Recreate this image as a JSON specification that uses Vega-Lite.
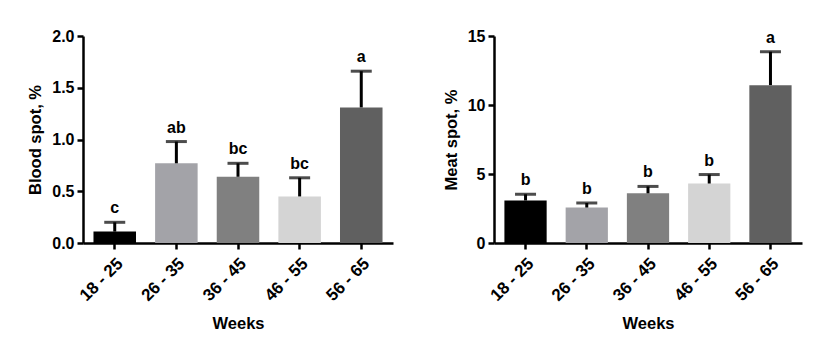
{
  "$schema": "https://vega.github.io/schema/vega-lite/v6.json",
  "padding": {"left": 27, "top": 28, "right": 5, "bottom": 5},
  "spacing": 50,
  "datasets": {
    "blood": [
      {"week": "18 - 25", "value": 0.11, "upper": 0.20, "letter": "c"},
      {"week": "26 - 35", "value": 0.77, "upper": 0.98, "letter": "ab"},
      {"week": "36 - 45", "value": 0.64, "upper": 0.77, "letter": "bc"},
      {"week": "46 - 55", "value": 0.45, "upper": 0.63, "letter": "bc"},
      {"week": "56 - 65", "value": 1.31, "upper": 1.66, "letter": "a"}
    ],
    "meat": [
      {"week": "18 - 25", "value": 3.08, "upper": 3.53, "letter": "b"},
      {"week": "26 - 35", "value": 2.57, "upper": 2.90, "letter": "b"},
      {"week": "36 - 45", "value": 3.60, "upper": 4.10, "letter": "b"},
      {"week": "46 - 55", "value": 4.31, "upper": 4.96, "letter": "b"},
      {"week": "56 - 65", "value": 11.44, "upper": 13.86, "letter": "a"}
    ]
  },
  "hconcat": [
    {
      "width": 310,
      "height": 207,
      "data": {"name": "blood"},
      "encoding": {
        "x": {"field": "week", "type": "nominal", "sort": null,
              "scale": {"paddingInner": 0.31, "paddingOuter": 0.17},
              "axis": {"title": "Weeks", "labelAngle": -45}}
      },
      "layer": [
        {
          "mark": {"type": "bar"},
          "encoding": {
            "y": {"field": "value", "type": "quantitative",
                  "scale": {"domain": [0, 2], "nice": false},
                  "axis": {"title": "Blood spot, %", "values": [0, 0.5, 1, 1.5, 2], "format": ".1f"}},
            "color": {"field": "week", "type": "nominal", "sort": null, "legend": null,
                      "scale": {"range": ["#000000", "#a3a3a8", "#808080", "#d4d4d4", "#606060"]}}
          }
        },
        {
          "mark": {"type": "rule", "strokeWidth": 3, "color": "#000000"},
          "encoding": {"y": {"field": "value", "type": "quantitative"}, "y2": {"field": "upper"}}
        },
        {
          "mark": {"type": "tick", "thickness": 3, "size": 21, "color": "#000000"},
          "encoding": {"y": {"field": "upper", "type": "quantitative"}}
        },
        {
          "mark": {"type": "text", "dy": -9, "baseline": "alphabetic", "fontSize": 16, "fontWeight": "bold", "font": "Liberation Sans", "color": "#000000"},
          "encoding": {"y": {"field": "upper", "type": "quantitative"}, "text": {"field": "letter"}}
        }
      ]
    },
    {
      "width": 308,
      "height": 207,
      "data": {"name": "meat"},
      "encoding": {
        "x": {"field": "week", "type": "nominal", "sort": null,
              "scale": {"paddingInner": 0.31, "paddingOuter": 0.17},
              "axis": {"title": "Weeks", "labelAngle": -45}}
      },
      "layer": [
        {
          "mark": {"type": "bar"},
          "encoding": {
            "y": {"field": "value", "type": "quantitative",
                  "scale": {"domain": [0, 15], "nice": false},
                  "axis": {"title": "Meat spot, %", "values": [0, 5, 10, 15]}},
            "color": {"field": "week", "type": "nominal", "sort": null, "legend": null,
                      "scale": {"range": ["#000000", "#a3a3a8", "#808080", "#d4d4d4", "#606060"]}}
          }
        },
        {
          "mark": {"type": "rule", "strokeWidth": 3, "color": "#000000"},
          "encoding": {"y": {"field": "value", "type": "quantitative"}, "y2": {"field": "upper"}}
        },
        {
          "mark": {"type": "tick", "thickness": 3, "size": 21, "color": "#000000"},
          "encoding": {"y": {"field": "upper", "type": "quantitative"}}
        },
        {
          "mark": {"type": "text", "dy": -9, "baseline": "alphabetic", "fontSize": 16, "fontWeight": "bold", "font": "Liberation Sans", "color": "#000000"},
          "encoding": {"y": {"field": "upper", "type": "quantitative"}, "text": {"field": "letter"}}
        }
      ]
    }
  ],
  "resolve": {"scale": {"color": "independent"}},
  "config": {
    "view": {"stroke": null},
    "font": "Liberation Sans",
    "axis": {
      "grid": false,
      "domainColor": "#000000",
      "domainWidth": 2.5,
      "tickColor": "#000000",
      "tickWidth": 2.5,
      "tickSize": 6,
      "labelFont": "Liberation Sans",
      "labelFontWeight": "bold",
      "labelFontSize": 16,
      "labelColor": "#000000",
      "labelPadding": 3,
      "titleFont": "Liberation Sans",
      "titleFontWeight": "bold",
      "titleFontSize": 16.5,
      "titleColor": "#000000"
    },
    "axisY": {"titlePadding": 8},
    "axisX": {"titlePadding": 12, "labelFontSize": 17, "labelPadding": 6}
  }
}
